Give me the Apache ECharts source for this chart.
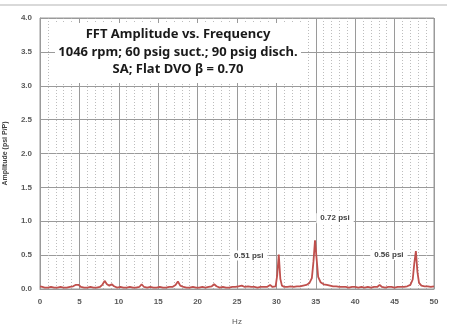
<!DOCTYPE html>
<html>
<head>
<meta charset="utf-8">
<script src="https://cdn.jsdelivr.net/npm/echarts@6/dist/echarts.min.js"></script>
<style>
  html, body { margin: 0; padding: 0; background: #fff; }
  #chart { width: 458px; height: 333px; }
</style>
</head>
<body>
<div id="chart"></div>
<script>
// Spectrum samples: frequency (Hz) and amplitude (psi P/P)
const freqHz = [
  0, 0.3, 0.6, 1.0, 1.4, 1.8, 2.2, 2.6, 3.0, 3.4, 3.8, 4.2, 4.5, 4.7, 4.9,
  5.2, 5.6, 6.0, 6.4, 6.8, 7.2, 7.6, 7.9, 8.2, 8.5, 8.8, 9.1, 9.4, 9.8,
  10.2, 10.6, 11.0, 11.4, 11.8, 12.2, 12.6, 12.9, 13.2, 13.6, 14.0, 14.4, 14.8,
  15.2, 15.6, 16.0, 16.4, 16.8, 17.2, 17.5, 17.8, 18.2, 18.6, 19.0, 19.4, 19.8,
  20.2, 20.6, 21.0, 21.4, 21.8, 22.1, 22.4, 22.8, 23.2, 23.6, 24.0, 24.4, 24.8,
  25.2, 25.6, 26.0, 26.4, 26.8, 27.2, 27.6, 28.0, 28.4, 28.8, 29.2, 29.5, 29.9,
  30.1, 30.3, 30.5, 30.7, 31.0, 31.4, 31.8, 32.2, 32.6, 33.0, 33.4, 33.8,
  34.2, 34.5, 34.7, 34.9, 35.1, 35.3, 35.6, 36.0, 36.4, 36.8, 37.2, 37.6,
  38.0, 38.4, 38.8, 39.2, 39.6, 40.0, 40.4, 40.8, 41.2, 41.6, 42.0, 42.4, 42.8,
  43.1, 43.4, 43.8, 44.2, 44.6, 45.0, 45.4, 45.8, 46.2, 46.6, 47.0, 47.3,
  47.5, 47.7, 47.9, 48.1, 48.4, 48.8, 49.2, 49.6, 50.0
];
const amplitude = [
  0.04, 0.03, 0.02, 0.02, 0.03, 0.02, 0.02, 0.03, 0.02, 0.02, 0.03, 0.04, 0.06, 0.08, 0.06,
  0.03, 0.02, 0.02, 0.03, 0.02, 0.02, 0.03, 0.06, 0.12, 0.07, 0.05, 0.07, 0.04, 0.02,
  0.03, 0.02, 0.02, 0.03, 0.02, 0.02, 0.03, 0.07, 0.03, 0.02, 0.03, 0.02, 0.02,
  0.03, 0.02, 0.02, 0.03, 0.03, 0.06, 0.11, 0.05, 0.03, 0.02, 0.02, 0.03, 0.02,
  0.02, 0.03, 0.02, 0.03, 0.04, 0.07, 0.04, 0.02, 0.03, 0.02, 0.02, 0.03, 0.03,
  0.04, 0.05, 0.03, 0.04, 0.03, 0.03, 0.02, 0.03, 0.03, 0.03, 0.06, 0.03, 0.04,
  0.20, 0.51, 0.15, 0.05, 0.03, 0.03, 0.04, 0.03, 0.04, 0.04, 0.05, 0.06,
  0.09, 0.16, 0.40, 0.72, 0.45, 0.18, 0.10, 0.07, 0.06, 0.05, 0.04, 0.04,
  0.03, 0.03, 0.03, 0.02, 0.03, 0.03, 0.02, 0.03, 0.02, 0.03, 0.02, 0.03, 0.03,
  0.06, 0.03, 0.02, 0.03, 0.03, 0.02, 0.03, 0.03, 0.03, 0.04, 0.06, 0.14,
  0.38, 0.56, 0.25, 0.09, 0.05, 0.04, 0.04, 0.03, 0.04
];

// Peaks that get a value callout: frequency, amplitude, label offset (px)
const peakHz = [30.3, 34.9, 47.7];
const peakAmp = [0.51, 0.72, 0.56];
const peakLabelOffset = [[-30, 1], [20, -22], [-27, 4]];

const titleLines = [
  'FFT Amplitude vs. Frequency',
  '1046 rpm; 60 psig suct.; 90 psig disch.',
  'SA; Flat DVO \u03b2 = 0.70'
];
const xAxisName = 'Hz';
const yAxisName = 'Amplitude (psi P/P)';

const FONT = '"Liberation Sans", Arial, sans-serif';
const TITLE_FONT = '"Noto Sans", "Open Sans", sans-serif';
const chart = echarts.init(document.getElementById('chart'), null, { renderer: 'canvas' });

chart.setOption({
  animation: false,
  backgroundColor: '#ffffff',
  textStyle: { fontFamily: FONT },
  grid: {
    left: 40, right: 24, top: 18, bottom: 44,
    containLabel: false,
    outerBoundsMode: 'none'
  },
  xAxis: {
    type: 'value',
    min: 0, max: 50, interval: 5,
    name: xAxisName,
    nameLocation: 'middle',
    nameGap: 29,
    nameTextStyle: { fontSize: 8, color: '#595959', fontFamily: FONT },
    axisLine: { show: true, lineStyle: { color: '#9a9a9a', width: 1 } },
    axisTick: { show: false },
    axisLabel: { fontSize: 8, color: '#595959', margin: 9, fontWeight: 'bold' },
    splitLine: { show: true, lineStyle: { color: '#9a9a9a', width: 1 } },
    minorTick: { show: false, splitNumber: 5 },
    minorSplitLine: { show: true, lineStyle: { color: '#bdbdbd', width: 1, type: [1, 2] } }
  },
  yAxis: {
    type: 'value',
    min: 0, max: 4, interval: 0.5,
    name: yAxisName,
    nameLocation: 'middle',
    nameGap: 31,
    nameTextStyle: { fontSize: 7, color: '#404040', fontWeight: 'bold', fontFamily: FONT },
    axisLine: { show: true, lineStyle: { color: '#9a9a9a', width: 1 } },
    axisTick: { show: false },
    axisLabel: {
      fontSize: 8, color: '#595959', margin: 8, fontWeight: 'bold',
      formatter: v => v.toFixed(1)
    },
    splitLine: { show: true, lineStyle: { color: '#9a9a9a', width: 1 } }
  },
  graphic: [
    {
      type: 'rect',
      shape: { x: 40, y: 18, width: 394, height: 271 },
      style: { fill: 'none', stroke: '#9a9a9a', lineWidth: 1 },
      silent: true,
      z: 5
    },
    {
      type: 'line',
      shape: { x1: 0, y1: 5, x2: 447, y2: 5 },
      style: { stroke: '#d9d9d9', lineWidth: 2 },
      silent: true
    },
    {
      // chart title in a white box over the grid
      type: 'group',
      z: 20,
      children: [
        {
          type: 'rect',
          shape: { x: 55, y: 23, width: 246, height: 60 },
          style: { fill: '#ffffff' },
          z: 20
        },
        {
          type: 'text',
          x: 178,
          y: 26,
          z: 21,
          style: {
            text: titleLines.join('\n'),
            font: 'bold 13px ' + TITLE_FONT,
            fill: '#1a1a1a',
            align: 'center',
            verticalAlign: 'top',
            lineHeight: 17.5
          }
        }
      ]
    }
  ],
  series: [
    {
      type: 'line',
      data: freqHz.map((f, i) => [f, amplitude[i]]),
      showSymbol: false,
      smooth: false,
      lineStyle: { color: '#c0504d', width: 1.8 },
      z: 6,
      markPoint: {
        symbol: 'rect',
        symbolSize: 0,
        z: 12,
        label: {
          show: true,
          fontSize: 8,
          fontFamily: FONT,
          color: '#404040',
          fontWeight: 'bold',
          backgroundColor: '#ffffff',
          padding: [1, 4, 1, 4],
          formatter: p => p.value.toFixed(2) + ' psi'
        },
        data: peakHz.map((f, i) => ({
          coord: [f, peakAmp[i]],
          value: peakAmp[i],
          label: { offset: peakLabelOffset[i] }
        }))
      }
    }
  ]
});
</script>
</body>
</html>
